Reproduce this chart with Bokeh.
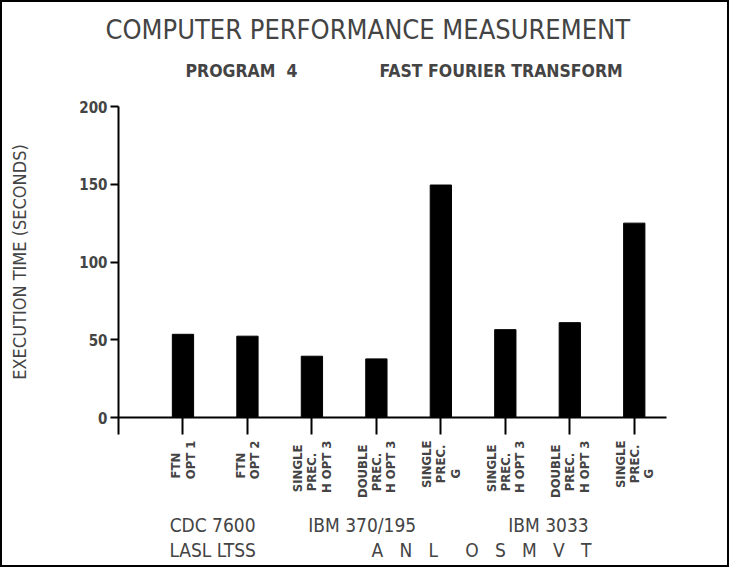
from bokeh.plotting import figure
from bokeh.models import FixedTicker, Title, LinearAxis
from bokeh.embed import file_html
from bokeh.resources import INLINE
import math

# ---- data ----
bar_labels = ["FTN\nOPT 1", "FTN\nOPT 2", "SINGLE\nPREC.\nH OPT 3", "DOUBLE\nPREC.\nH OPT 3",
              "SINGLE\nPREC.\nG", "SINGLE\nPREC.\nH OPT 3", "DOUBLE\nPREC.\nH OPT 3", "SINGLE\nPREC.\nG"]
exec_time = [53.5, 52.3, 39.4, 37.7, 149.5, 56.5, 61.0, 125.0]
y_ticks = [0, 50, 100, 150, 200]
machines = ["CDC 7600", "IBM 370/195", "IBM 3033"]
machine_pos = [1.46, 3.78, 6.67]
sites = ["LASL LTSS", "A N L   O S M V T"]
site_pos = [1.46, 5.63]

FONT = "'Liberation Sans Narrow', 'DejaVu Sans Condensed', 'Liberation Sans', sans-serif"
NB = "\u00a0"


def spaced(s):
    if "   " in s:
        return s.replace("   ", "|").replace(" ", NB * 3).replace("|", NB * 5)
    return s.replace(" ", NB)


def centred(label):
    # rotated labels are right-aligned by Bokeh; pad short lines so they look centred
    lines = label.split("\n")
    n = max(len(l) for l in lines)
    return "\n".join(l + NB * round((n - len(l)) * 1.33) for l in lines)


positions = list(range(1, len(exec_time) + 1))

p = figure(frame_width=548, frame_height=311, output_backend="svg", toolbar_location=None,
           x_range=(0, 8.5), y_range=(0, 200),
           min_border_left=116, min_border_right=61, min_border_top=104, min_border_bottom=148)
p.styles = {"border": "2px solid black"}
p.outline_line_color = None
p.grid.grid_line_color = None

p.vbar(x=positions, top=exec_time, width=0.33, color="black")

# titles
p.title.text = "COMPUTER PERFORMANCE MEASUREMENT"
p.title.text_font = FONT
p.title.text_font_size = "27px"
p.title.text_font_style = "normal"
p.title.align = "left"
p.title.offset = -13
p.title.standoff = -24
sub = Title(text="PROGRAM" + NB * 2 + "4" + NB * 15 + "FAST FOURIER TRANSFORM",
            text_font=FONT, text_font_size="17.5px", text_font_style="bold", align="left",
            offset=67, standoff=52)
p.add_layout(sub, "above")

# y axis
ya = p.yaxis[0]
ya.ticker = FixedTicker(ticks=y_ticks)
ya.minor_tick_line_color = None
ya.major_tick_in = 0
ya.major_tick_out = 8
ya.major_tick_line_width = 2
ya.axis_line_width = 2
ya.major_label_text_font = FONT
ya.major_label_text_font_size = "15px"
ya.major_label_text_font_style = "bold"
ya.major_label_standoff = 3
ya.axis_label = "EXECUTION TIME (SECONDS)"
ya.axis_label_text_font = FONT
ya.axis_label_text_font_size = "18px"
ya.axis_label_text_font_style = "normal"
ya.axis_label_standoff = 46

# x axis with bar labels
xa = p.xaxis[0]
xa.ticker = FixedTicker(ticks=[0] + positions)
xa.major_label_overrides = {0: ""} | {pos: centred(lab) for pos, lab in zip(positions, bar_labels)}
xa.minor_tick_line_color = None
xa.major_tick_in = 0
xa.major_tick_out = 17
xa.major_tick_line_width = 2
xa.axis_line_width = 2
xa.major_label_orientation = math.pi / 2
xa.major_label_text_font = FONT
xa.major_label_text_font_size = "13px"
xa.major_label_text_font_style = "bold"
xa.major_label_text_line_height = 0.95
xa.major_label_standoff = 6


def label_axis(ticks, labels, standoff):
    ax = LinearAxis(ticker=FixedTicker(ticks=ticks),
                    major_label_overrides={t: spaced(l) for t, l in zip(ticks, labels)},
                    axis_line_color=None, major_tick_line_color=None, minor_tick_line_color=None,
                    major_tick_out=0, major_tick_in=0, major_label_standoff=standoff,
                    major_label_text_font=FONT, major_label_text_font_size="19px",
                    major_label_text_font_style="normal", major_label_orientation="horizontal")
    p.add_layout(ax, "below")
    return ax


label_axis(machine_pos, machines, 12)
label_axis(site_pos, sites, 0)

open("out.html", "w").write(file_html(p, INLINE))
